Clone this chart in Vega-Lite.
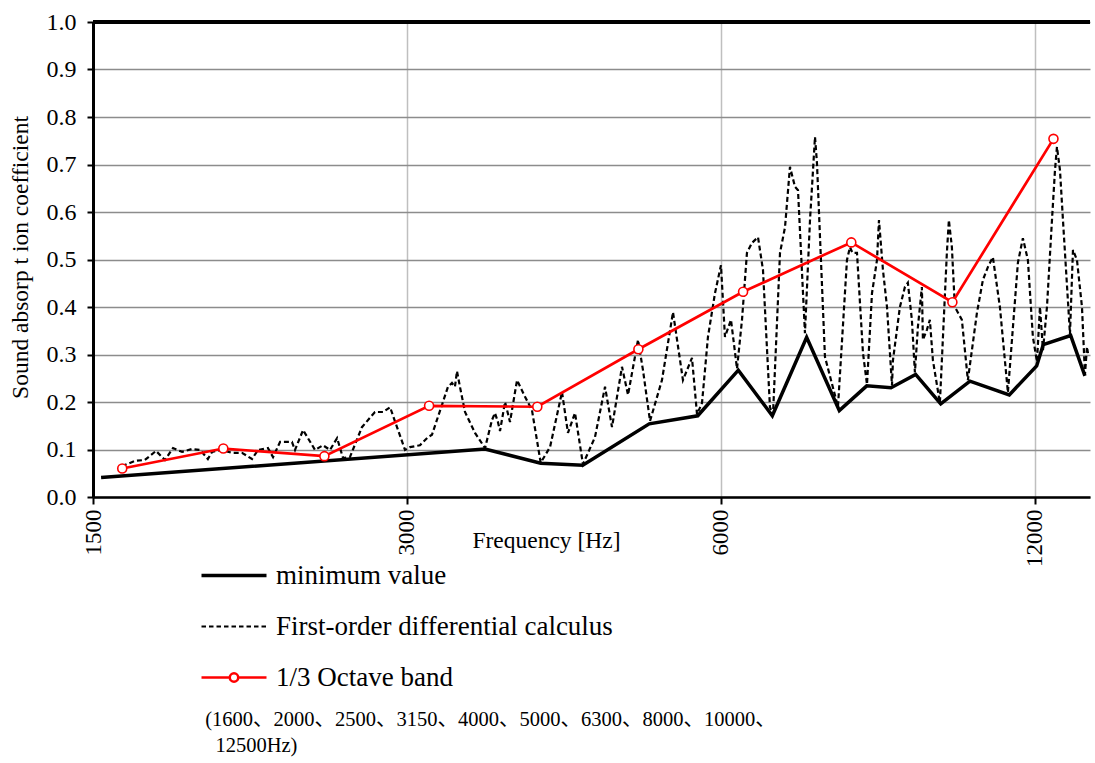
{
  "$schema": "https://vega.github.io/schema/vega-lite/v6.json",
  "width": 997,
  "height": 475,
  "autosize": {"type": "none"},
  "padding": {"left": 93, "top": 22, "right": 5, "bottom": 266},
  "background": "white",
  "config": {"font": "Liberation Serif", "view": {"stroke": null}},
  "data": {
    "values": [
      {"series": "minimum value", "freq": 1527, "value": 0.041},
      {"series": "minimum value", "freq": 3564, "value": 0.101},
      {"series": "minimum value", "freq": 4030, "value": 0.071},
      {"series": "minimum value", "freq": 4422, "value": 0.067},
      {"series": "minimum value", "freq": 5121, "value": 0.154},
      {"series": "minimum value", "freq": 5700, "value": 0.171},
      {"series": "minimum value", "freq": 6234, "value": 0.267},
      {"series": "minimum value", "freq": 6720, "value": 0.171},
      {"series": "minimum value", "freq": 7249, "value": 0.336},
      {"series": "minimum value", "freq": 7791, "value": 0.182},
      {"series": "minimum value", "freq": 8277, "value": 0.234},
      {"series": "minimum value", "freq": 8733, "value": 0.230},
      {"series": "minimum value", "freq": 9221, "value": 0.258},
      {"series": "minimum value", "freq": 9746, "value": 0.196},
      {"series": "minimum value", "freq": 10395, "value": 0.244},
      {"series": "minimum value", "freq": 11339, "value": 0.215},
      {"series": "minimum value", "freq": 12045, "value": 0.276},
      {"series": "minimum value", "freq": 12222, "value": 0.321},
      {"series": "minimum value", "freq": 12984, "value": 0.340},
      {"series": "minimum value", "freq": 13399, "value": 0.255},

      {"series": "First-order differential calculus", "freq": 1599, "value": 0.065},
      {"series": "First-order differential calculus", "freq": 1646, "value": 0.076},
      {"series": "First-order differential calculus", "freq": 1682, "value": 0.078},
      {"series": "First-order differential calculus", "freq": 1724, "value": 0.097},
      {"series": "First-order differential calculus", "freq": 1758, "value": 0.078},
      {"series": "First-order differential calculus", "freq": 1790, "value": 0.103},
      {"series": "First-order differential calculus", "freq": 1826, "value": 0.095},
      {"series": "First-order differential calculus", "freq": 1866, "value": 0.101},
      {"series": "First-order differential calculus", "freq": 1900, "value": 0.099},
      {"series": "First-order differential calculus", "freq": 1933, "value": 0.080},
      {"series": "First-order differential calculus", "freq": 1951, "value": 0.095},
      {"series": "First-order differential calculus", "freq": 1994, "value": 0.099},
      {"series": "First-order differential calculus", "freq": 2039, "value": 0.093},
      {"series": "First-order differential calculus", "freq": 2084, "value": 0.093},
      {"series": "First-order differential calculus", "freq": 2131, "value": 0.080},
      {"series": "First-order differential calculus", "freq": 2159, "value": 0.099},
      {"series": "First-order differential calculus", "freq": 2207, "value": 0.103},
      {"series": "First-order differential calculus", "freq": 2232, "value": 0.084},
      {"series": "First-order differential calculus", "freq": 2267, "value": 0.116},
      {"series": "First-order differential calculus", "freq": 2327, "value": 0.116},
      {"series": "First-order differential calculus", "freq": 2343, "value": 0.099},
      {"series": "First-order differential calculus", "freq": 2385, "value": 0.141},
      {"series": "First-order differential calculus", "freq": 2449, "value": 0.099},
      {"series": "First-order differential calculus", "freq": 2492, "value": 0.109},
      {"series": "First-order differential calculus", "freq": 2531, "value": 0.099},
      {"series": "First-order differential calculus", "freq": 2571, "value": 0.124},
      {"series": "First-order differential calculus", "freq": 2605, "value": 0.082},
      {"series": "First-order differential calculus", "freq": 2645, "value": 0.084},
      {"series": "First-order differential calculus", "freq": 2716, "value": 0.147},
      {"series": "First-order differential calculus", "freq": 2795, "value": 0.179},
      {"series": "First-order differential calculus", "freq": 2845, "value": 0.179},
      {"series": "First-order differential calculus", "freq": 2890, "value": 0.189},
      {"series": "First-order differential calculus", "freq": 2987, "value": 0.099},
      {"series": "First-order differential calculus", "freq": 3020, "value": 0.105},
      {"series": "First-order differential calculus", "freq": 3087, "value": 0.109},
      {"series": "First-order differential calculus", "freq": 3142, "value": 0.126},
      {"series": "First-order differential calculus", "freq": 3170, "value": 0.131},
      {"series": "First-order differential calculus", "freq": 3241, "value": 0.194},
      {"series": "First-order differential calculus", "freq": 3284, "value": 0.232},
      {"series": "First-order differential calculus", "freq": 3313, "value": 0.240},
      {"series": "First-order differential calculus", "freq": 3335, "value": 0.232},
      {"series": "First-order differential calculus", "freq": 3350, "value": 0.265},
      {"series": "First-order differential calculus", "freq": 3372, "value": 0.232},
      {"series": "First-order differential calculus", "freq": 3410, "value": 0.179},
      {"series": "First-order differential calculus", "freq": 3486, "value": 0.135},
      {"series": "First-order differential calculus", "freq": 3564, "value": 0.103},
      {"series": "First-order differential calculus", "freq": 3619, "value": 0.162},
      {"series": "First-order differential calculus", "freq": 3643, "value": 0.177},
      {"series": "First-order differential calculus", "freq": 3667, "value": 0.158},
      {"series": "First-order differential calculus", "freq": 3684, "value": 0.139},
      {"series": "First-order differential calculus", "freq": 3725, "value": 0.200},
      {"series": "First-order differential calculus", "freq": 3766, "value": 0.158},
      {"series": "First-order differential calculus", "freq": 3825, "value": 0.246},
      {"series": "First-order differential calculus", "freq": 3893, "value": 0.211},
      {"series": "First-order differential calculus", "freq": 3953, "value": 0.183},
      {"series": "First-order differential calculus", "freq": 4030, "value": 0.072},
      {"series": "First-order differential calculus", "freq": 4114, "value": 0.105},
      {"series": "First-order differential calculus", "freq": 4224, "value": 0.221},
      {"series": "First-order differential calculus", "freq": 4280, "value": 0.135},
      {"series": "First-order differential calculus", "freq": 4347, "value": 0.177},
      {"series": "First-order differential calculus", "freq": 4424, "value": 0.069},
      {"series": "First-order differential calculus", "freq": 4543, "value": 0.126},
      {"series": "First-order differential calculus", "freq": 4645, "value": 0.232},
      {"series": "First-order differential calculus", "freq": 4717, "value": 0.147},
      {"series": "First-order differential calculus", "freq": 4822, "value": 0.274},
      {"series": "First-order differential calculus", "freq": 4887, "value": 0.215},
      {"series": "First-order differential calculus", "freq": 4996, "value": 0.331},
      {"series": "First-order differential calculus", "freq": 5051, "value": 0.267},
      {"series": "First-order differential calculus", "freq": 5130, "value": 0.160},
      {"series": "First-order differential calculus", "freq": 5267, "value": 0.246},
      {"series": "First-order differential calculus", "freq": 5397, "value": 0.389},
      {"series": "First-order differential calculus", "freq": 5517, "value": 0.246},
      {"series": "First-order differential calculus", "freq": 5628, "value": 0.293},
      {"series": "First-order differential calculus", "freq": 5691, "value": 0.174},
      {"series": "First-order differential calculus", "freq": 5754, "value": 0.198},
      {"series": "First-order differential calculus", "freq": 5830, "value": 0.337},
      {"series": "First-order differential calculus", "freq": 5921, "value": 0.429},
      {"series": "First-order differential calculus", "freq": 6000, "value": 0.488},
      {"series": "First-order differential calculus", "freq": 6053, "value": 0.337},
      {"series": "First-order differential calculus", "freq": 6134, "value": 0.373},
      {"series": "First-order differential calculus", "freq": 6216, "value": 0.270},
      {"series": "First-order differential calculus", "freq": 6285, "value": 0.373},
      {"series": "First-order differential calculus", "freq": 6354, "value": 0.514},
      {"series": "First-order differential calculus", "freq": 6425, "value": 0.535},
      {"series": "First-order differential calculus", "freq": 6511, "value": 0.547},
      {"series": "First-order differential calculus", "freq": 6583, "value": 0.478},
      {"series": "First-order differential calculus", "freq": 6685, "value": 0.189},
      {"series": "First-order differential calculus", "freq": 6730, "value": 0.173},
      {"series": "First-order differential calculus", "freq": 6835, "value": 0.514},
      {"series": "First-order differential calculus", "freq": 6911, "value": 0.568},
      {"series": "First-order differential calculus", "freq": 6987, "value": 0.695},
      {"series": "First-order differential calculus", "freq": 7065, "value": 0.653},
      {"series": "First-order differential calculus", "freq": 7112, "value": 0.646},
      {"series": "First-order differential calculus", "freq": 7222, "value": 0.345},
      {"series": "First-order differential calculus", "freq": 7303, "value": 0.583},
      {"series": "First-order differential calculus", "freq": 7384, "value": 0.758},
      {"series": "First-order differential calculus", "freq": 7416, "value": 0.703},
      {"series": "First-order differential calculus", "freq": 7466, "value": 0.547},
      {"series": "First-order differential calculus", "freq": 7548, "value": 0.295},
      {"series": "First-order differential calculus", "freq": 7768, "value": 0.190},
      {"series": "First-order differential calculus", "freq": 7924, "value": 0.499},
      {"series": "First-order differential calculus", "freq": 7977, "value": 0.526},
      {"series": "First-order differential calculus", "freq": 8020, "value": 0.514},
      {"series": "First-order differential calculus", "freq": 8101, "value": 0.514},
      {"series": "First-order differential calculus", "freq": 8209, "value": 0.303},
      {"series": "First-order differential calculus", "freq": 8282, "value": 0.237},
      {"series": "First-order differential calculus", "freq": 8374, "value": 0.429},
      {"series": "First-order differential calculus", "freq": 8467, "value": 0.499},
      {"series": "First-order differential calculus", "freq": 8504, "value": 0.583},
      {"series": "First-order differential calculus", "freq": 8579, "value": 0.478},
      {"series": "First-order differential calculus", "freq": 8656, "value": 0.400},
      {"series": "First-order differential calculus", "freq": 8752, "value": 0.235},
      {"series": "First-order differential calculus", "freq": 8771, "value": 0.288},
      {"series": "First-order differential calculus", "freq": 8906, "value": 0.400},
      {"series": "First-order differential calculus", "freq": 9005, "value": 0.442},
      {"series": "First-order differential calculus", "freq": 9064, "value": 0.451},
      {"series": "First-order differential calculus", "freq": 9145, "value": 0.373},
      {"series": "First-order differential calculus", "freq": 9206, "value": 0.262},
      {"series": "First-order differential calculus", "freq": 9267, "value": 0.358},
      {"series": "First-order differential calculus", "freq": 9349, "value": 0.442},
      {"series": "First-order differential calculus", "freq": 9370, "value": 0.331},
      {"series": "First-order differential calculus", "freq": 9453, "value": 0.352},
      {"series": "First-order differential calculus", "freq": 9515, "value": 0.373},
      {"series": "First-order differential calculus", "freq": 9579, "value": 0.288},
      {"series": "First-order differential calculus", "freq": 9728, "value": 0.198},
      {"series": "First-order differential calculus", "freq": 9879, "value": 0.514},
      {"series": "First-order differential calculus", "freq": 9923, "value": 0.583},
      {"series": "First-order differential calculus", "freq": 9989, "value": 0.526},
      {"series": "First-order differential calculus", "freq": 10055, "value": 0.400},
      {"series": "First-order differential calculus", "freq": 10212, "value": 0.373},
      {"series": "First-order differential calculus", "freq": 10348, "value": 0.246},
      {"series": "First-order differential calculus", "freq": 10556, "value": 0.387},
      {"series": "First-order differential calculus", "freq": 10697, "value": 0.457},
      {"series": "First-order differential calculus", "freq": 10815, "value": 0.484},
      {"series": "First-order differential calculus", "freq": 10935, "value": 0.505},
      {"series": "First-order differential calculus", "freq": 11106, "value": 0.400},
      {"series": "First-order differential calculus", "freq": 11304, "value": 0.220},
      {"series": "First-order differential calculus", "freq": 11556, "value": 0.493},
      {"series": "First-order differential calculus", "freq": 11684, "value": 0.545},
      {"series": "First-order differential calculus", "freq": 11814, "value": 0.499},
      {"series": "First-order differential calculus", "freq": 11945, "value": 0.337},
      {"series": "First-order differential calculus", "freq": 12053, "value": 0.285},
      {"series": "First-order differential calculus", "freq": 12133, "value": 0.400},
      {"series": "First-order differential calculus", "freq": 12214, "value": 0.309},
      {"series": "First-order differential calculus", "freq": 12322, "value": 0.400},
      {"series": "First-order differential calculus", "freq": 12459, "value": 0.583},
      {"series": "First-order differential calculus", "freq": 12542, "value": 0.688},
      {"series": "First-order differential calculus", "freq": 12597, "value": 0.737},
      {"series": "First-order differential calculus", "freq": 12681, "value": 0.688},
      {"series": "First-order differential calculus", "freq": 12765, "value": 0.583},
      {"series": "First-order differential calculus", "freq": 12964, "value": 0.343},
      {"series": "First-order differential calculus", "freq": 13050, "value": 0.520},
      {"series": "First-order differential calculus", "freq": 13166, "value": 0.499},
      {"series": "First-order differential calculus", "freq": 13312, "value": 0.400},
      {"series": "First-order differential calculus", "freq": 13400, "value": 0.258},
      {"series": "First-order differential calculus", "freq": 13460, "value": 0.316},
      {"series": "First-order differential calculus", "freq": 13490, "value": 0.303},

      {"series": "1/3 Octave band", "freq": 1600, "value": 0.060},
      {"series": "1/3 Octave band", "freq": 2000, "value": 0.102},
      {"series": "1/3 Octave band", "freq": 2500, "value": 0.086},
      {"series": "1/3 Octave band", "freq": 3150, "value": 0.192},
      {"series": "1/3 Octave band", "freq": 4000, "value": 0.190},
      {"series": "1/3 Octave band", "freq": 5000, "value": 0.311},
      {"series": "1/3 Octave band", "freq": 6300, "value": 0.432},
      {"series": "1/3 Octave band", "freq": 8000, "value": 0.536},
      {"series": "1/3 Octave band", "freq": 10000, "value": 0.410},
      {"series": "1/3 Octave band", "freq": 12500, "value": 0.754}
    ]
  },
  "layer": [
    {
      "encoding": {
        "x": {
          "field": "freq",
          "type": "quantitative",
          "scale": {"type": "log", "base": 2, "domain": [1500, 13550], "nice": false},
          "axis": {
            "values": [1500, 3000, 6000, 12000],
            "format": "d",
            "labelAngle": 270,
            "labelFont": "Liberation Serif",
            "labelFontSize": 23,
            "labelColor": "black",
            "labelPadding": 5,
            "labelFlush": false,
            "labelOverlap": false,
            "tickSize": 7,
            "tickColor": "black",
            "tickWidth": 2,
            "domainColor": "black",
            "domainWidth": 2.5,
            "gridColor": "#bfbfbf",
            "gridWidth": 1.5,
            "title": "Frequency [Hz]",
            "titleFont": "Liberation Serif",
            "titleFontSize": 23.5,
            "titleFontWeight": "normal",
            "titleColor": "black",
            "titleX": 453,
            "titleY": 43,
            "titleBaseline": "middle",
            "titleAlign": "center"
          }
        },
        "y": {
          "field": "value",
          "type": "quantitative",
          "scale": {"domain": [0, 1], "nice": false},
          "axis": {
            "values": [0, 0.1, 0.2, 0.3, 0.4, 0.5, 0.6, 0.7, 0.8, 0.9, 1.0],
            "format": ".1f",
            "labelFont": "Liberation Serif",
            "labelFontSize": 24,
            "labelColor": "black",
            "labelPadding": 11,
            "tickSize": 6,
            "tickColor": "black",
            "tickWidth": 2,
            "domainColor": "black",
            "domainWidth": 3,
            "gridColor": "#8c8c8c",
            "gridWidth": 1.5,
            "title": "Sound absorp t ion coefficient",
            "titleFont": "Liberation Serif",
            "titleFontSize": 23.5,
            "titleFontWeight": "normal",
            "titleColor": "black",
            "titleX": -61,
            "titleY": 235
          }
        },
        "color": {
          "field": "series",
          "type": "nominal",
          "scale": {
            "domain": ["minimum value", "First-order differential calculus", "1/3 Octave band"],
            "range": ["black", "black", "red"]
          },
          "legend": {
            "orient": "none",
            "legendX": 107,
            "legendY": 540,
            "direction": "vertical",
            "title": ["\u200b\u00a0(1600、2000、2500、3150、4000、5000、6300、8000、10000、", "\u200b\u00a0\u00a0\u00a012500Hz)"],
            "titleOrient": "bottom",
            "titleAnchor": "start",
            "titleFont": "Liberation Serif, Noto Sans CJK JP",
            "titleFontSize": 20.5,
            "titleFontWeight": "normal",
            "titleColor": "black",
            "titleLineHeight": 26,
            "titlePadding": 19,
            "titleLimit": 800,
            "labelFont": "Liberation Serif",
            "labelFontSize": 27,
            "labelColor": "black",
            "labelLimit": 800,
            "rowPadding": 23,
            "symbolSize": 4225,
            "symbolOffset": 0,
            "encode": {
              "symbols": {
                "update": {
                  "x": {"value": 34},
                  "size": {"value": 4225},
                  "shape": {"signal": "datum.value === '1/3 Octave band' ? 'M-1,0L-0.13,0M0.13,0L1,0M0.13,0A0.13,0.13,0,1,1,-0.13,0A0.13,0.13,0,1,1,0.13,0Z' : 'M-1,0L1,0'"},
                  "strokeDash": {"signal": "datum.value === 'First-order differential calculus' ? [4.5, 3] : []"},
                  "strokeWidth": {"signal": "datum.value === 'minimum value' ? 3.5 : datum.value === 'First-order differential calculus' ? 2 : 2.5"},
                  "stroke": {"signal": "datum.value === '1/3 Octave band' ? 'red' : 'black'"},
                  "fill": {"value": "white"},
                  "opacity": {"value": 1}
                }
              },
              "labels": {
                "update": {
                  "x": {"value": 76}
                }
              }
            }
          }
        }
      },
      "layer": [
        {
          "transform": [{"filter": "datum.series === 'minimum value'"}],
          "mark": {"type": "line", "strokeWidth": 3.5, "strokeJoin": "miter"}
        },
        {
          "transform": [{"filter": "datum.series === 'First-order differential calculus'"}],
          "mark": {"type": "line", "strokeWidth": 2.2, "strokeDash": [5, 3]}
        },
        {
          "transform": [{"filter": "datum.series === '1/3 Octave band'"}],
          "mark": {
            "type": "line",
            "strokeWidth": 2.7,
            "point": {"filled": false, "fill": "white", "size": 81, "strokeWidth": 1.6, "opacity": 1}
          }
        }
      ]
    },
    {
      "mark": {"type": "rule", "color": "black", "strokeWidth": 3},
      "encoding": {"y": {"datum": 1}}
    }
  ]
}
